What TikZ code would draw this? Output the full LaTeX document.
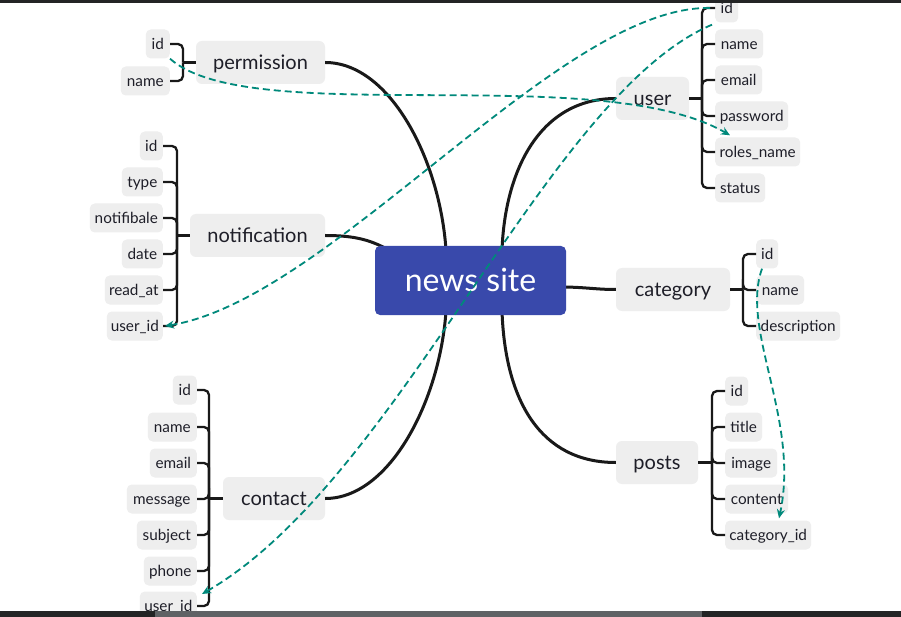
\documentclass[tikz,border=0pt]{standalone}
\usepackage{fontspec}
\setmainfont{Lato}
\usetikzlibrary{arrows.meta}
\definecolor{rootblue}{HTML}{3949AB}
\definecolor{boxgray}{HTML}{EEEEEE}
\definecolor{fkteal}{HTML}{00897B}
\definecolor{txt}{HTML}{1E1E28}
\definecolor{barDark}{HTML}{232425}
\definecolor{barGray}{HTML}{5F6265}
\tikzset{
  leaf/.style={fill=boxgray, rounded corners=5pt, inner xsep=0pt, inner ysep=0pt, minimum height=29pt, text height=11pt, text depth=0.5pt, text=txt, font=\fontsize{15.3}{18}\selectfont},
  topic/.style={fill=boxgray, rounded corners=6pt, inner sep=0pt, minimum height=43pt, text height=15pt, text depth=1pt, text=txt, font=\fontsize{20}{24}\selectfont},
  root/.style={fill=rootblue, rounded corners=5pt, inner sep=0pt, text height=24pt, text depth=2pt, text=white, font=\fontsize{32}{38}\selectfont},
  mainlink/.style={draw=black!90, line width=3pt},
  br/.style={draw=black!90, line width=2.3pt, rounded corners=5pt},
  fk/.style={draw=fkteal, line width=1.8pt, dash pattern=on 7pt off 4pt, -{Stealth[length=9pt,width=8pt,fill=fkteal]}}
}
\begin{document}
\begin{tikzpicture}[x=1pt,y=-1pt]
\useasboundingbox (0,0) rectangle (901,617);
\fill[white] (0,0) rectangle (901,617);

% root and topics (positions)
\coordinate (rootc) at (470.5,280.5);
\node[topic, minimum width=129] (perm) at (260.5,62.5) {permission};
\node[topic, minimum width=135] (notif) at (257.5,235.5) {notification};
\node[topic, minimum width=102] (cont) at (274,498.5) {contact};
\node[topic, minimum width=73] (user) at (652.5,98.5) {user};
\node[topic, minimum width=114] (cat) at (673,289.5) {category};
\node[topic, minimum width=82] (posts) at (657,462.5) {posts};

% leaves: permission
\node[leaf, anchor=east, minimum width=24] (pid) at (170,44) {id};
\node[leaf, anchor=east, minimum width=49] (pname) at (170,81) {name};
% notification
\node[leaf, anchor=east, minimum width=23] (nid) at (163,146) {id};
\node[leaf, anchor=east, minimum width=41] (ntype) at (163,182) {type};
\node[leaf, anchor=east, minimum width=73] (nnot) at (163,218) {notifibale};
\node[leaf, anchor=east, minimum width=41] (ndate) at (163,254) {date};
\node[leaf, anchor=east, minimum width=58] (nread) at (163,290) {read\_at};
\node[leaf, anchor=east, minimum width=56] (nuid) at (163,326) {user\_id};
% contact
\node[leaf, anchor=east, minimum width=24] (cid) at (197,390) {id};
\node[leaf, anchor=east, minimum width=49] (cname) at (197,427) {name};
\node[leaf, anchor=east, minimum width=47] (cemail) at (197,463) {email};
\node[leaf, anchor=east, minimum width=70] (cmsg) at (197,499) {message};
\node[leaf, anchor=east, minimum width=60] (csub) at (197,535) {subject};
\node[leaf, anchor=east, minimum width=53] (cphone) at (197,571) {phone};
\node[leaf, anchor=east, minimum width=57] (cuid) at (197,606) {user\_id};
% user
\node[leaf, anchor=west, minimum width=23] (uid) at (715,8) {id};
\node[leaf, anchor=west, minimum width=48] (uname) at (715,44) {name};
\node[leaf, anchor=west, minimum width=47] (uemail) at (715,80) {email};
\node[leaf, anchor=west, minimum width=73] (upass) at (715,116) {password};
\node[leaf, anchor=west, minimum width=85] (urole) at (715,152) {roles\_name};
\node[leaf, anchor=west, minimum width=50] (ustat) at (715,188) {status};
% category
\node[leaf, anchor=west, minimum width=22] (kid) at (756,254) {id};
\node[leaf, anchor=west, minimum width=48] (kname) at (756,290) {name};
\node[leaf, anchor=west, minimum width=84] (kdesc) at (756,326) {description};
% posts
\node[leaf, anchor=west, minimum width=23] (qid) at (725,391) {id};
\node[leaf, anchor=west, minimum width=37] (qtitle) at (725,427) {title};
\node[leaf, anchor=west, minimum width=52] (qimg) at (725,463) {image};
\node[leaf, anchor=west, minimum width=63] (qcont) at (725,499) {content};
\node[leaf, anchor=west, minimum width=86] (qcat) at (725,535) {category\_id};

% bracket joints
\coordinate (pb) at (183,62.5);
\coordinate (nb) at (177,235.5);
\coordinate (cb) at (209,498.5);
\coordinate (ub) at (702,98.5);
\coordinate (kb) at (743,289.5);
\coordinate (qb) at (712,462.5);

\draw[br] (perm.west) -- (pb);
\foreach \l in {pid,pname} \draw[br] (pb) |- (\l.east);
\draw[br] (notif.west) -- (nb);
\foreach \l in {nid,ntype,nnot,ndate,nread,nuid} \draw[br] (nb) |- (\l.east);
\draw[br] (cont.west) -- (cb);
\foreach \l in {cid,cname,cemail,cmsg,csub,cphone,cuid} \draw[br] (cb) |- (\l.east);
\draw[br] (user.east) -- (ub);
\foreach \l in {uid,uname,uemail,upass,urole,ustat} \draw[br] (ub) |- (\l.west);
\draw[br] (cat.east) -- (kb);
\foreach \l in {kid,kname,kdesc} \draw[br] (kb) |- (\l.west);
\draw[br] (posts.east) -- (qb);
\foreach \l in {qid,qtitle,qimg,qcont,qcat} \draw[br] (qb) |- (\l.west);

% main connectors (drawn under the root)
\coordinate (rtl) at (446,250);
\coordinate (rtr) at (502,250);
\coordinate (rbl) at (446,311);
\coordinate (rbr) at (502,311);
\draw[mainlink] (perm.east) .. controls (390,62.5) and (440,160) .. (rtl);
\draw[mainlink] (notif.east) .. controls (355,235.5) and (372,240) .. (392,252);
\draw[mainlink] (cont.east) .. controls (390,498.5) and (440,400) .. (rbl);
\draw[mainlink] (user.west) .. controls (540,98.5) and (505,170) .. (rtr);
\draw[mainlink] (560,287) .. controls (585,287) and (595,289.5) .. (cat.west);
\draw[mainlink] (posts.west) .. controls (540,462.5) and (505,400) .. (rbr);

\node[root, minimum width=191, minimum height=69] (root) at (rootc) {news site};

% foreign keys
\draw[fk] (pid.south east) .. controls (250,130) and (600,60) .. ([xshift=15pt,yshift=2pt]urole.north west);
\draw[fk] ([xshift=-5pt]uid.west) .. controls (560,5) and (330,300) .. ([xshift=2pt]nuid.east);
\draw[fk] ([xshift=-3pt,yshift=-2pt]uid.south west) .. controls (547,94) and (400,480) .. ([xshift=5pt,yshift=12pt]cuid.east);
\draw[fk] ([xshift=6pt]kid.south west) .. controls (740,330) and (800,420) .. ([xshift=54pt,yshift=2pt]qcat.north west);

% window bars
\fill[barDark] (0,0) rectangle (901,3.5);
\fill[barDark] (0,611) rectangle (901,617);
\fill[barGray] (155,611) rectangle (702,617);
\end{tikzpicture}
\end{document}
